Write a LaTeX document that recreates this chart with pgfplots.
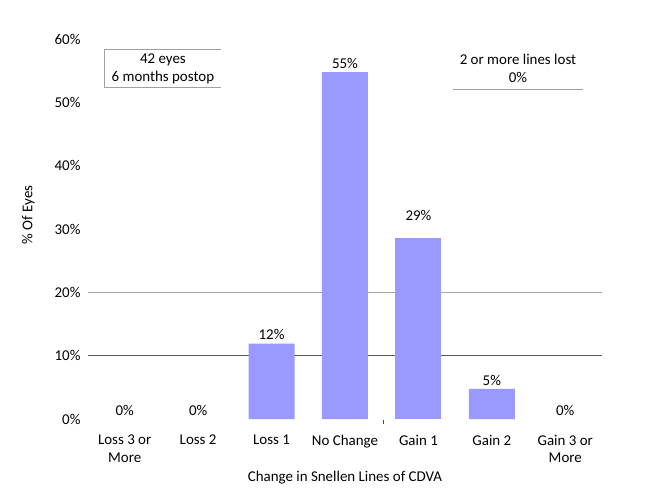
\documentclass[border=0pt]{standalone}
\usepackage{pgfplots}
\pgfplotsset{compat=1.18}
\usepackage{fontspec}
\setmainfont{Carlito}
\definecolor{barblue}{HTML}{9999FF}
\definecolor{gridA}{HTML}{595959}
\definecolor{gridB}{HTML}{A6A6A6}
\definecolor{boxgray}{HTML}{A0A0A0}
\begin{document}
\begin{tikzpicture}[font=\fontsize{15}{18}\selectfont]
\path[use as bounding box] (-88bp,-81bp) rectangle (569bp,419bp);
\begin{axis}[
  at={(0,0)}, anchor=south west,
  scale only axis, width=514bp, height=380bp,
  xmin=-0.5, xmax=6.5, ymin=0, ymax=60,
  ybar, bar width=46bp, bar shift=0pt,
  xtick={0,...,6},
  xticklabels={{Loss 3 or\\More},{Loss 2},{Loss 1},{No Change},{Gain 1},{Gain 2},{Gain 3 or\\More}},
  xticklabel style={align=center, yshift=-8bp},
  ytick={0,10,...,60},
  yticklabels={0\%,10\%,20\%,30\%,40\%,50\%,60\%},
  yticklabel style={xshift=-4bp},
  axis line style={draw=none}, tick style={draw=none},
  xlabel={Change in Snellen Lines of CDVA},
  ylabel={\% Of Eyes},
  xlabel style={yshift=-1bp},
  ylabel style={yshift=13bp, xshift=14bp},
  /pgf/number format/assume math mode=true,
  nodes near coords={\pgfmathprintnumber[fixed,precision=0,assume math mode=true]{\pgfplotspointmeta}\%},
  every node near coord/.append style={font=\fontsize{15}{18}\selectfont, black},
  clip=false,
]
\draw[gridB, line width=1pt] (axis cs:-0.5,20) -- (axis cs:6.5,20);
\draw[gridA, line width=0.8pt] (axis cs:-0.5,10) -- (axis cs:6.5,10);
% zero-height categories: labels only
\addplot[fill=none, draw=none] coordinates {
  (0,0) (1,0) (6,0)
};
\addplot[fill=barblue, draw=none] coordinates {
  (2,11.9) (3,54.76) (5,4.76)
};
\addplot[fill=barblue, draw=none, every node near coord/.append style={yshift=14bp}] coordinates {
  (4,28.57)
};
% annotation boxes
\draw[boxgray, line width=1pt] (axis cs:1.31,58.3) -- (axis cs:-0.27,58.3) -- (axis cs:-0.27,52.3) -- (axis cs:1.31,52.3);
\node[align=center, black] at (axis cs:0.52,55.3) {42 eyes\\6 months postop};
\node[align=center, black] at (axis cs:5.356,55.4) {2 or more lines lost\\0\%};
\draw[boxgray, line width=1pt] (axis cs:4.47,52.1) -- (axis cs:6.24,52.1);
\draw[black!70] (axis cs:3.517,-0.2) -- (axis cs:3.517,-0.8);
\end{axis}
\end{tikzpicture}
\end{document}
